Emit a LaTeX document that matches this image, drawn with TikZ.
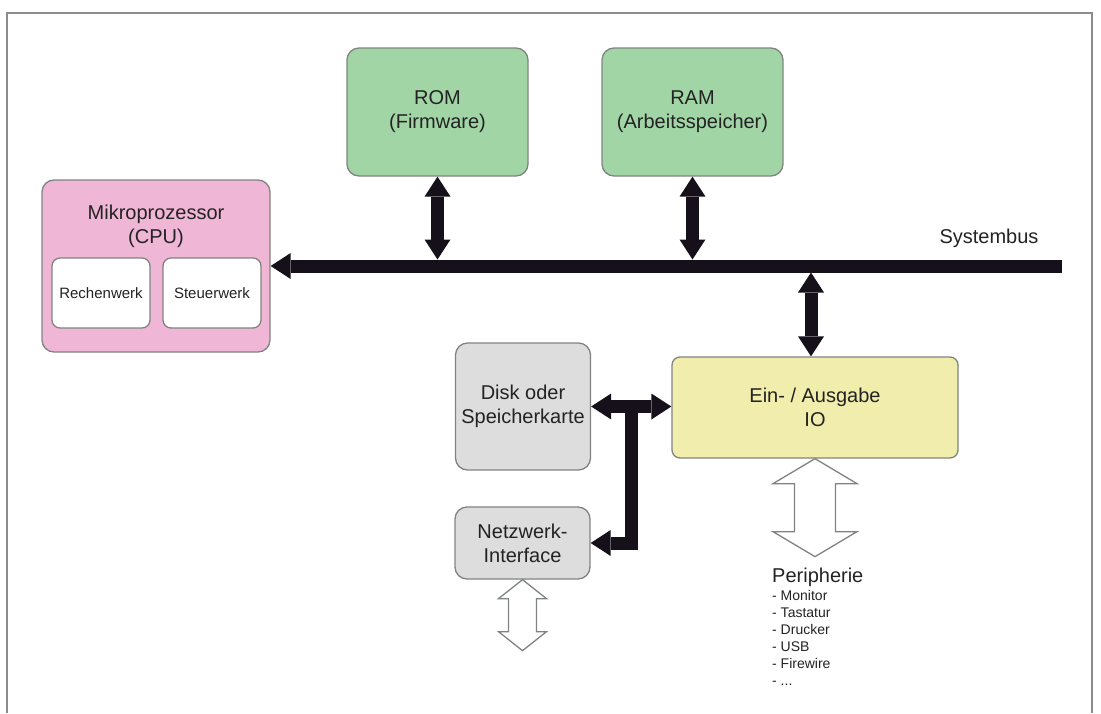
\documentclass[tikz,border=0pt]{standalone}
\usepackage{fontspec}
\setmainfont{Liberation Sans}
\usepackage{xcolor}
\usetikzlibrary{calc, positioning, arrows.meta}
\definecolor{memgreen}{RGB}{161,213,166}
\definecolor{cpupink}{RGB}{240,182,214}
\definecolor{ioyellow}{RGB}{241,237,172}
\definecolor{diskgray}{RGB}{221,221,221}
\definecolor{boxline}{RGB}{128,132,128}
\definecolor{textgray}{RGB}{35,35,35}
\definecolor{busblack}{RGB}{22,16,26}
\tikzset{
    sysdiagram/.style={
        x=1pt, y=-1pt,
        font=\fontsize{20}{24}\selectfont,
        text=textgray,
        frame/.style={draw=gray!90, line width=1.6pt},
        box/.style={draw=boxline, line width=1.3pt, rounded corners=12pt, align=center, inner sep=2pt},
        memory/.style={box, fill=memgreen, minimum width=181pt, minimum height=128pt},
        cpubox/.style={box, fill=cpupink, minimum width=228pt, minimum height=172pt},
        unit/.style={box, fill=white, rounded corners=8pt, minimum width=98pt, minimum height=70pt, font=\fontsize{15}{18}\selectfont},
        iobox/.style={box, fill=ioyellow, rounded corners=8pt, minimum width=286pt, minimum height=101pt},
        storage/.style={box, fill=diskgray, minimum width=135pt},
        thickarrow/.style={draw=busblack, line width=13pt, >={Triangle[length=20pt 0, width=26pt 0, line width=0pt 0]}},
        hollowline/.style={draw=boxline, fill=white, line width=1.3pt, line join=miter}
    },
    pics/hollow/.style n args={4}{code={
        \draw[hollowline] (0,0) -- ({#2/2},{#4}) -- ({#3/2},{#4}) -- ({#3/2},{#1-#4})
            -- ({#2/2},{#1-#4}) -- (0,{#1}) -- ({-#2/2},{#1-#4}) -- ({-#3/2},{#1-#4})
            -- ({-#3/2},{#4}) -- ({-#2/2},{#4}) -- cycle;
    }}
}
\begin{document}
\begin{tikzpicture}[sysdiagram]
    \useasboundingbox (0,0) rectangle (1101,713);
    % Frame
    \draw[frame] (7,713) -- (7,13) -- (1092,13) -- (1092,713);

    % Memories
    \node[memory] (rom) at (437.5,112) {ROM\\(Firmware)};
    \node[memory] (ram) at (692.5,112) {RAM\\(Arbeitsspeicher)};

    % Processor
    \node[cpubox] (cpu) at (156,266) {};
    \node[align=center, below=22pt of cpu.north] (cputitle) {Mikroprozessor\\(CPU)};
    \node[unit] (alu) at (101,293) {Rechenwerk};
    \node[unit] (cu) at (212,293) {Steuerwerk};

    % Input / output
    \node[iobox] (io) at (815,407.5) {Ein- / Ausgabe\\IO};
    \node[storage, minimum height=127pt] (disk) at (523,406.5) {Disk oder\\Speicherkarte};
    \node[storage, minimum height=72pt] (net) at (522.5,543) {Netzwerk-\\Interface};

    % Systembus
    \coordinate (busend) at (1062,266);
    \coordinate (bustop) at (1062,259.5);
    \coordinate (busbot) at (1062,272.5);
    \draw[thickarrow, ->] (busend) -- (cpu.east);
    \node[anchor=base east] (buslabel) at (1042,243) {Systembus};

    \draw[thickarrow, <->] (rom.south) -- (rom.south |- bustop);
    \draw[thickarrow, <->] (ram.south) -- (ram.south |- bustop);
    \draw[thickarrow, <->] ([xshift=-4pt]io.north |- busbot) -- ([xshift=-4pt]io.north);

    % Disk and network
    \draw[thickarrow, <->] (disk.east) -- (disk.east -| io.west);
    \coordinate (tee) at ($(disk.east)!0.5!(disk.east -| io.west)$);
    \draw[thickarrow, ->] (tee) |- (net.east);

    % Peripherals
    \pic at (io.south) {hollow={98}{84}{41}{25}};
    \pic at (net.south) {hollow={71}{48}{28}{19}};
    \node[align=left, anchor=north west, inner sep=0pt, font=\fontsize{14}{17}\selectfont] (peri) at (772,568)
        {{\fontsize{20}{24}\selectfont Peripherie}\\[1pt] - Monitor\\ - Tastatur\\ - Drucker\\ - USB\\ - Firewire\\ - ...};
\end{tikzpicture}
\end{document}
